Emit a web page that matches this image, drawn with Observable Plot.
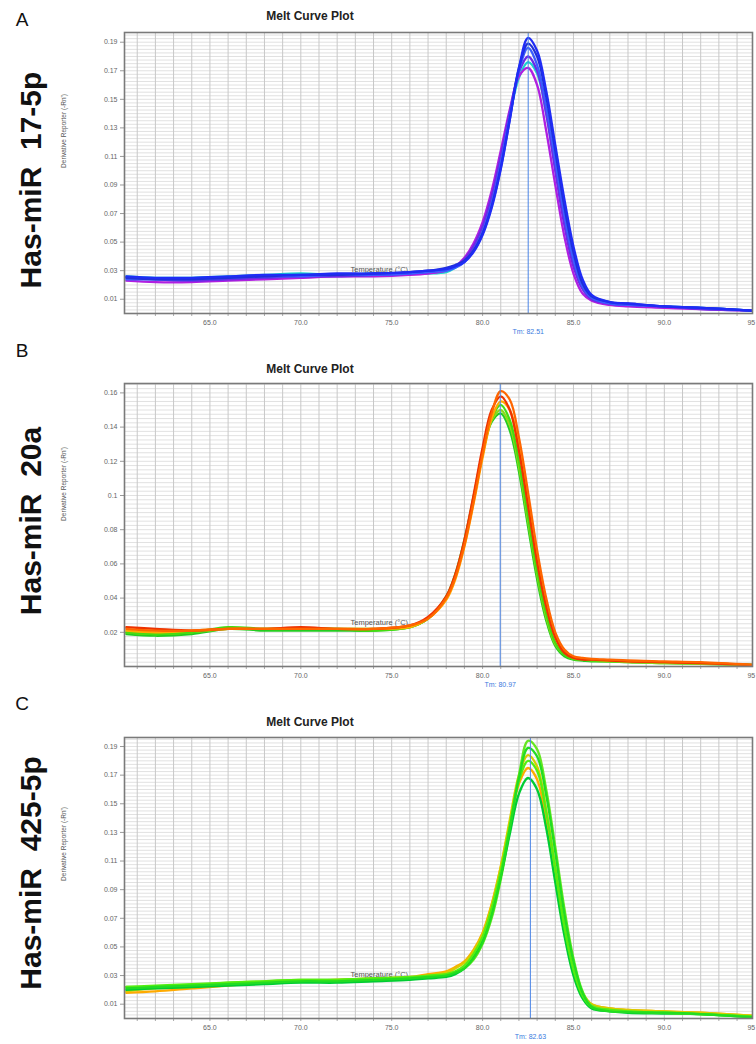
<!DOCTYPE html>
<html>
<head>
<meta charset="utf-8">
<script src="https://cdn.jsdelivr.net/npm/d3@7"></script>
<script src="https://cdn.jsdelivr.net/npm/@observablehq/plot@0.6"></script>
<style>
  body { margin: 0; background: #fff; font-family: "Liberation Sans", Arial, sans-serif; }
  #wrap { position: relative; width: 756px; height: 1044px; overflow: hidden; background: #fff; }
  .panel { position: absolute; left: 0; }
  .letter { position: absolute; font-size: 19px; color: #111; line-height: 1; transform: translate(-50%, -50%); }
  .big { position: absolute; font-weight: bold; font-size: 30px; color: #111; line-height: 1; white-space: pre; transform: translate(-50%, -50%) rotate(-90deg); }
  .title { position: absolute; font-weight: bold; font-size: 12px; color: #222; line-height: 1; white-space: nowrap; transform: translate(-50%, -50%); }
  .ylab { position: absolute; font-size: 6.5px; color: #555; line-height: 1; white-space: nowrap; transform: translate(-50%, -50%) rotate(-90deg); }
  .ann { z-index: 2; }
</style>
</head>
<body>
<div id="wrap"></div>
<script>
// Shared temperature grid (°C)
const temps = [60.4, 62, 64, 66, 68, 70, 72, 74, 76, 77, 78, 78.5, 79, 79.5, 80, 80.5, 81, 81.5, 82, 82.5, 83, 83.5, 84, 84.5, 85, 85.5, 86, 87, 88, 90, 92, 94.8];

// Panel A: Has-miR 17-5p
const aBlue1   = [0.026,0.025,0.025,0.026,0.027,0.027,0.028,0.028,0.029,0.030,0.031,0.033,0.036,0.043,0.055,0.074,0.101,0.136,0.172,0.193,0.184,0.156,0.118,0.080,0.047,0.024,0.013,0.008,0.007,0.005,0.004,0.002];
const aBlue2   = [0.024,0.024,0.024,0.025,0.026,0.026,0.027,0.027,0.028,0.029,0.030,0.032,0.036,0.044,0.057,0.077,0.105,0.138,0.170,0.186,0.174,0.145,0.107,0.069,0.038,0.019,0.011,0.007,0.006,0.005,0.004,0.002];
const aViolet  = [0.025,0.024,0.023,0.024,0.025,0.026,0.026,0.027,0.028,0.029,0.031,0.033,0.038,0.047,0.061,0.082,0.110,0.141,0.169,0.180,0.170,0.140,0.100,0.062,0.033,0.017,0.010,0.007,0.006,0.005,0.003,0.002];
const aMagenta = [0.023,0.022,0.022,0.023,0.024,0.025,0.026,0.026,0.027,0.028,0.030,0.033,0.039,0.049,0.064,0.086,0.114,0.143,0.166,0.172,0.160,0.128,0.090,0.054,0.028,0.014,0.009,0.006,0.005,0.004,0.003,0.002];
const aCyan    = [0.026,0.025,0.025,0.026,0.027,0.028,0.027,0.028,0.028,0.028,0.029,0.032,0.037,0.046,0.060,0.081,0.108,0.139,0.165,0.176,0.168,0.140,0.102,0.065,0.035,0.018,0.010,0.007,0.006,0.005,0.004,0.002];
const aBlue3   = [0.025,0.024,0.024,0.025,0.026,0.027,0.027,0.028,0.029,0.030,0.032,0.034,0.037,0.044,0.056,0.075,0.102,0.136,0.172,0.189,0.180,0.152,0.114,0.075,0.043,0.021,0.012,0.008,0.007,0.005,0.004,0.002];
const aColors  = ["#19d3d0", "#b01fe0", "#6a2be8", "#3a5cff", "#2030d8", "#1f2cf5"];
const aSeries  = [aCyan, aMagenta, aViolet, aBlue2, aBlue3, aBlue1];
const aYTicks  = [0.01, 0.03, 0.05, 0.07, 0.09, 0.11, 0.13, 0.15, 0.17, 0.19];
const aTm = 82.51;

// Panel B: Has-miR 20a
const bOrange  = [0.022,0.021,0.021,0.022,0.022,0.022,0.022,0.022,0.024,0.028,0.040,0.052,0.071,0.096,0.124,0.148,0.161,0.156,0.134,0.102,0.068,0.040,0.020,0.010,0.006,0.005,0.0045,0.004,0.0035,0.003,0.0025,0.001];
const bRed     = [0.023,0.022,0.021,0.022,0.022,0.023,0.022,0.022,0.024,0.029,0.041,0.054,0.074,0.100,0.128,0.150,0.158,0.150,0.126,0.094,0.061,0.035,0.017,0.008,0.005,0.004,0.004,0.0035,0.003,0.0025,0.002,0.001];
const bGreen   = [0.019,0.018,0.019,0.022,0.021,0.021,0.021,0.021,0.023,0.028,0.041,0.054,0.074,0.099,0.125,0.143,0.148,0.138,0.114,0.082,0.051,0.027,0.012,0.006,0.004,0.0035,0.003,0.003,0.0025,0.002,0.0015,0.001];
const bGreen2  = [0.020,0.019,0.020,0.023,0.022,0.022,0.022,0.021,0.023,0.028,0.040,0.053,0.072,0.097,0.124,0.145,0.153,0.144,0.120,0.088,0.056,0.031,0.014,0.007,0.0045,0.004,0.0035,0.003,0.003,0.0025,0.002,0.001];
const bAmber   = [0.021,0.020,0.021,0.022,0.022,0.022,0.022,0.022,0.023,0.028,0.039,0.051,0.070,0.095,0.122,0.145,0.155,0.150,0.128,0.097,0.064,0.037,0.018,0.009,0.005,0.0045,0.004,0.0035,0.003,0.0025,0.002,0.001];
const bLime    = [0.020,0.019,0.020,0.022,0.022,0.022,0.022,0.022,0.023,0.028,0.040,0.053,0.073,0.098,0.124,0.144,0.150,0.141,0.117,0.085,0.054,0.029,0.013,0.007,0.0045,0.004,0.0035,0.003,0.0025,0.002,0.0015,0.001];
const bColors  = ["#22cc22", "#8fd81a", "#44dd11", "#ffaa00", "#ee3300", "#ff6600"];
const bSeries  = [bGreen, bLime, bGreen2, bAmber, bRed, bOrange];
const bYTicks  = [0.02, 0.04, 0.06, 0.08, 0.1, 0.12, 0.14, 0.16];
const bTm = 80.97;

// Panel C: Has-miR 425-5p
const cGreen   = [0.021,0.022,0.023,0.024,0.025,0.026,0.026,0.027,0.028,0.029,0.030,0.032,0.035,0.042,0.053,0.072,0.099,0.133,0.168,0.189,0.183,0.156,0.116,0.073,0.040,0.018,0.008,0.005,0.0045,0.004,0.003,0.001];
const cLime    = [0.022,0.023,0.024,0.025,0.026,0.027,0.027,0.028,0.029,0.030,0.031,0.033,0.037,0.045,0.057,0.077,0.103,0.135,0.166,0.180,0.173,0.144,0.104,0.064,0.034,0.016,0.008,0.006,0.005,0.004,0.003,0.0015];
const cBright  = [0.020,0.021,0.022,0.023,0.024,0.025,0.025,0.026,0.027,0.028,0.029,0.031,0.035,0.043,0.055,0.074,0.099,0.129,0.157,0.168,0.160,0.133,0.095,0.058,0.030,0.014,0.007,0.005,0.004,0.0035,0.003,0.001];
const cYellow  = [0.019,0.021,0.022,0.024,0.025,0.026,0.027,0.027,0.028,0.030,0.032,0.035,0.039,0.047,0.059,0.079,0.106,0.139,0.170,0.184,0.176,0.146,0.106,0.066,0.036,0.018,0.010,0.007,0.006,0.005,0.004,0.002];
const cOrange  = [0.018,0.019,0.021,0.023,0.025,0.026,0.027,0.028,0.029,0.031,0.033,0.036,0.040,0.048,0.060,0.080,0.106,0.136,0.164,0.175,0.167,0.137,0.099,0.061,0.033,0.017,0.010,0.007,0.006,0.005,0.004,0.002];
const cLight   = [0.022,0.022,0.023,0.025,0.026,0.027,0.027,0.028,0.028,0.029,0.030,0.032,0.035,0.041,0.052,0.070,0.097,0.132,0.170,0.194,0.188,0.160,0.120,0.077,0.042,0.019,0.009,0.006,0.005,0.004,0.003,0.001];
const cColors  = ["#ffaa00", "#d8cc00", "#66e622", "#00cc33", "#55ee11", "#22dd22"];
const cSeries  = [cOrange, cYellow, cLight, cBright, cLime, cGreen];
const cYTicks  = [0.01, 0.03, 0.05, 0.07, 0.09, 0.11, 0.13, 0.15, 0.17, 0.19];
const cTm = 82.63;

const xLabelTicks = [65, 70, 75, 80, 85, 90];
const xEdgeTick = [95];
const xMinorTicks = d3.range(61, 95);

function makePanel(cfg) {
  const data = [];
  cfg.series.forEach((vals, i) => vals.forEach((v, j) => data.push({T: temps[j], v, c: cfg.colors[i], s: i})));
  const minor = d3.range(0, 200).map(i => i * 0.0025).filter(v => v <= cfg.ymax);
  const fmt = d => String(+d.toFixed(2));
  const svg = Plot.plot({
    width: 756,
    height: cfg.height,
    marginLeft: 124,
    marginRight: 4,
    marginTop: cfg.mt,
    marginBottom: cfg.mb,
    style: {fontFamily: "Liberation Sans, Arial, sans-serif", background: "transparent"},
    x: {domain: [60.3, 94.85]},
    y: {domain: [0, cfg.ymax]},
    color: {type: "identity"},
    marks: [
      Plot.gridY(minor, {stroke: "#d9d9d9", strokeOpacity: 1, strokeWidth: 0.8}),
      Plot.gridX(xMinorTicks, {stroke: "#c8c8c8", strokeOpacity: 1, strokeWidth: 1}),
      Plot.axisY(cfg.yTicks, {tickSize: 4, tickPadding: 3, fontSize: 7, fill: "#666", stroke: "#999", tickFormat: fmt, label: null}),
      Plot.axisX(xMinorTicks, {tickSize: 3, stroke: "#aaa", tickFormat: () => "", label: null}),
      Plot.text(xLabelTicks, {x: d => d, frameAnchor: "bottom", dy: 11, text: d => d.toFixed(1), fontSize: 7, fill: "#666"}),
      Plot.text(xEdgeTick, {x: d => d, frameAnchor: "bottom", dy: 11, textAnchor: "end", text: d => String(d), fontSize: 7, fill: "#666"}),
      Plot.text(["Temperature (°C)"], {frameAnchor: "bottom-left", dx: 226, dy: -42, fontSize: 7.5, fill: "#555"}),
      Plot.line(data, {x: "T", y: "v", z: "s", stroke: "c", strokeWidth: 2.3, curve: "catmull-rom"}),
      Plot.ruleX([cfg.tm], {stroke: "#4a84e6", strokeWidth: 1}),
      Plot.text([cfg.tm], {x: d => d, frameAnchor: "bottom", dy: 20, text: d => "Tm: " + d, fontSize: 7, fill: "#3a7be0"}),
      Plot.frame({stroke: "#7a7a7a", strokeWidth: 1.6})
    ]
  });
  svg.classList.add("panel");
  svg.style.top = cfg.top + "px";
  return svg;
}

const wrap = document.getElementById("wrap");
wrap.appendChild(makePanel({top: 0, height: 350, mt: 32, mb: 37, ymax: 0.1968, series: aSeries, colors: aColors, yTicks: aYTicks, tm: aTm}));
wrap.appendChild(makePanel({top: 350, height: 350, mt: 33, mb: 34, ymax: 0.1655, series: bSeries, colors: bColors, yTicks: bYTicks, tm: bTm}));
wrap.appendChild(makePanel({top: 700, height: 344, mt: 37, mb: 26, ymax: 0.1963, series: cSeries, colors: cColors, yTicks: cYTicks, tm: cTm}));

// Annotations
const letters = [["A", 22, 19], ["B", 22, 350], ["C", 22, 703]];
const bigLabels = [["Has-miR  17-5p", 31, 180], ["Has-miR  20a", 31, 521], ["Has-miR  425-5p", 31, 873]];
const titles = [["Melt Curve Plot", 310, 16], ["Melt Curve Plot", 310, 369], ["Melt Curve Plot", 310, 722]];
const yLabels = [["Derivative Reporter (-Rn')", 64, 131], ["Derivative Reporter (-Rn')", 64, 484], ["Derivative Reporter (-Rn')", 64, 844]];

function addDivs(list, cls) {
  list.forEach(([t, x, y]) => {
    const d = document.createElement("div");
    d.className = cls + " ann";
    d.textContent = t;
    d.style.left = x + "px";
    d.style.top = y + "px";
    wrap.appendChild(d);
  });
}
addDivs(letters, "letter");
addDivs(bigLabels, "big");
addDivs(titles, "title");
addDivs(yLabels, "ylab");
</script>
</body>
</html>
